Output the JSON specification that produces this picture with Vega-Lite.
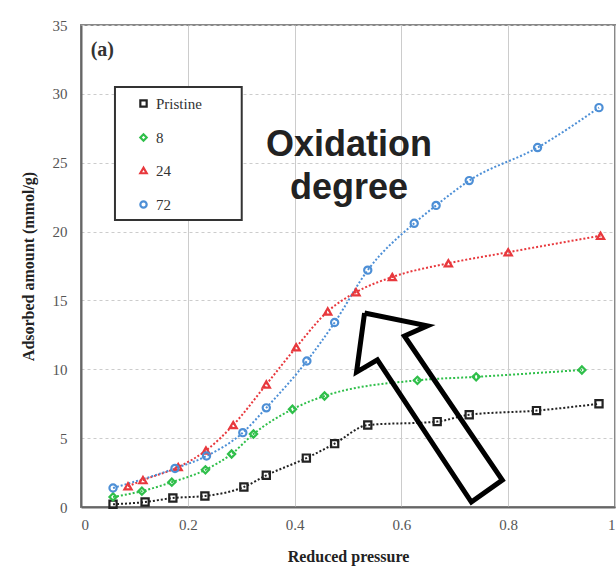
{
  "$schema": "https://vega.github.io/schema/vega-lite/v6.json",
  "autosize": {"type": "none"},
  "width": 534,
  "height": 482,
  "padding": {"left": 81, "top": 25, "right": 1, "bottom": 61},
  "background": "white",
  "config": {
    "view": {"stroke": "#888", "strokeWidth": 2},
    "axis": {"labelFont": "Liberation Serif", "labelFontSize": 15, "labelColor": "#555", "titleFont": "Liberation Serif", "titleFontSize": 16, "titleFontWeight": "bold", "titleColor": "#222", "domainColor": "#666", "domainWidth": 2, "ticks": false, "gridColor": "#ccc"},
    "legend": {"labelFont": "Liberation Serif", "labelFontSize": 15, "labelColor": "#333"}
  },
  "datasets": {
    "series": [
      {"s": "Pristine", "x": 0.06, "y": 0.2},
      {"s": "Pristine", "x": 0.12, "y": 0.36},
      {"s": "Pristine", "x": 0.172, "y": 0.65},
      {"s": "Pristine", "x": 0.232, "y": 0.8},
      {"s": "Pristine", "x": 0.305, "y": 1.45},
      {"s": "Pristine", "x": 0.347, "y": 2.3},
      {"s": "Pristine", "x": 0.422, "y": 3.55},
      {"s": "Pristine", "x": 0.475, "y": 4.6},
      {"s": "Pristine", "x": 0.537, "y": 5.95},
      {"s": "Pristine", "x": 0.667, "y": 6.2},
      {"s": "Pristine", "x": 0.727, "y": 6.7},
      {"s": "Pristine", "x": 0.853, "y": 7.0},
      {"s": "Pristine", "x": 0.97, "y": 7.5},
      {"s": "8", "x": 0.06, "y": 0.73},
      {"s": "8", "x": 0.114, "y": 1.15},
      {"s": "8", "x": 0.17, "y": 1.8},
      {"s": "8", "x": 0.233, "y": 2.7},
      {"s": "8", "x": 0.282, "y": 3.85},
      {"s": "8", "x": 0.323, "y": 5.3},
      {"s": "8", "x": 0.396, "y": 7.1},
      {"s": "8", "x": 0.456, "y": 8.06},
      {"s": "8", "x": 0.63, "y": 9.2},
      {"s": "8", "x": 0.74, "y": 9.45},
      {"s": "8", "x": 0.938, "y": 9.95},
      {"s": "24", "x": 0.088, "y": 1.5},
      {"s": "24", "x": 0.116, "y": 1.95},
      {"s": "24", "x": 0.182, "y": 2.9},
      {"s": "24", "x": 0.234, "y": 4.1},
      {"s": "24", "x": 0.285, "y": 5.95},
      {"s": "24", "x": 0.347, "y": 8.9},
      {"s": "24", "x": 0.403, "y": 11.6},
      {"s": "24", "x": 0.462, "y": 14.2},
      {"s": "24", "x": 0.515, "y": 15.6},
      {"s": "24", "x": 0.583, "y": 16.7},
      {"s": "24", "x": 0.688, "y": 17.7},
      {"s": "24", "x": 0.8, "y": 18.5},
      {"s": "24", "x": 0.973, "y": 19.7},
      {"s": "72", "x": 0.06, "y": 1.38},
      {"s": "72", "x": 0.176, "y": 2.8},
      {"s": "72", "x": 0.235, "y": 3.7},
      {"s": "72", "x": 0.303, "y": 5.4},
      {"s": "72", "x": 0.347, "y": 7.2},
      {"s": "72", "x": 0.423, "y": 10.6},
      {"s": "72", "x": 0.475, "y": 13.4},
      {"s": "72", "x": 0.537, "y": 17.2},
      {"s": "72", "x": 0.624, "y": 20.6},
      {"s": "72", "x": 0.665, "y": 21.9},
      {"s": "72", "x": 0.727, "y": 23.7},
      {"s": "72", "x": 0.855, "y": 26.1},
      {"s": "72", "x": 0.97, "y": 29.0}
    ],
    "arrow": [
      {"o": 1, "x": 0.531, "y": 14.09},
      {"o": 2, "x": 0.6486, "y": 13.15},
      {"o": 3, "x": 0.6056, "y": 12.42},
      {"o": 4, "x": 0.789, "y": 1.96},
      {"o": 5, "x": 0.731, "y": 0.36},
      {"o": 6, "x": 0.555, "y": 10.68},
      {"o": 7, "x": 0.516, "y": 9.8},
      {"o": 8, "x": 0.531, "y": 14.09}
    ],
    "labels": [
      {"t": "Oxidation", "x": 0.502, "y": 26.3},
      {"t": "degree", "x": 0.502, "y": 23.15}
    ],
    "box": [
      {"x": 0.0636, "x2": 0.301, "y": 30.5, "y2": 20.84}
    ]
  },
  "layer": [
    {
      "data": {"name": "box"},
      "mark": {"type": "rect", "fill": "white", "stroke": "#333", "strokeWidth": 2},
      "encoding": {
        "x": {"field": "x", "type": "quantitative", "scale": {"domain": [0, 1], "nice": false}, "title": "Reduced pressure", "axis": {"values": [0, 0.2, 0.4, 0.6, 0.8, 1], "format": "~g", "grid": true, "labelPadding": 10, "titlePadding": 16}},
        "x2": {"field": "x2"},
        "y": {"field": "y", "type": "quantitative", "scale": {"domain": [0, 35], "nice": false}, "title": "Adsorbed amount (mmol/g)", "axis": {"values": [0, 5, 10, 15, 20, 25, 30, 35], "grid": true, "gridDash": [3, 3], "labelPadding": 14, "titlePadding": 16}},
        "y2": {"field": "y2"}
      }
    },
    {
      "data": {"name": "series"},
      "mark": {"type": "line", "interpolate": "monotone", "strokeDash": [2, 2], "strokeWidth": 2},
      "encoding": {
        "x": {"field": "x", "type": "quantitative"},
        "y": {"field": "y", "type": "quantitative"},
        "detail": {"field": "s"},
        "color": {"field": "s", "type": "nominal", "scale": {"domain": ["Pristine", "8", "24", "72"], "range": ["#222222", "#2fbf4a", "#e8383d", "#4d8fd6"]}, "title": null}
      }
    },
    {
      "data": {"name": "series"},
      "mark": {"type": "point", "filled": false, "strokeWidth": 2.2, "size": 52, "opacity": 1},
      "encoding": {
        "x": {"field": "x", "type": "quantitative"},
        "y": {"field": "y", "type": "quantitative"},
        "color": {"field": "s", "type": "nominal", "title": null,
          "legend": {"orient": "none", "legendX": 55, "legendY": 71, "padding": 0, "rowPadding": 17, "labelFont": "Liberation Serif", "labelFontSize": 15, "labelColor": "#333", "symbolStrokeWidth": 2.2, "symbolSize": 40, "labelOffset": 5}},
        "shape": {"field": "s", "type": "nominal", "scale": {"domain": ["Pristine", "8", "24", "72"], "range": ["square", "diamond", "triangle-up", "circle"]}, "title": null}
      }
    },
    {
      "data": {"name": "arrow"},
      "mark": {"type": "line", "color": "black", "strokeWidth": 5, "strokeJoin": "miter"},
      "encoding": {
        "x": {"field": "x", "type": "quantitative"},
        "y": {"field": "y", "type": "quantitative"},
        "order": {"field": "o", "type": "quantitative"}
      }
    },
    {
      "data": {"name": "labels"},
      "mark": {"type": "text", "font": "Liberation Sans", "fontWeight": "bold", "fontSize": 36, "color": "#222", "align": "center", "baseline": "middle"},
      "encoding": {
        "x": {"field": "x", "type": "quantitative"},
        "y": {"field": "y", "type": "quantitative"},
        "text": {"field": "t"}
      }
    },
    {
      "data": {"values": [{"t": "(a)", "x": 0.04, "y": 33.2}]},
      "mark": {"type": "text", "font": "Liberation Serif", "fontWeight": "bold", "fontSize": 20, "color": "#333", "align": "center", "baseline": "middle"},
      "encoding": {
        "x": {"field": "x", "type": "quantitative"},
        "y": {"field": "y", "type": "quantitative"},
        "text": {"field": "t"}
      }
    }
  ]
}
